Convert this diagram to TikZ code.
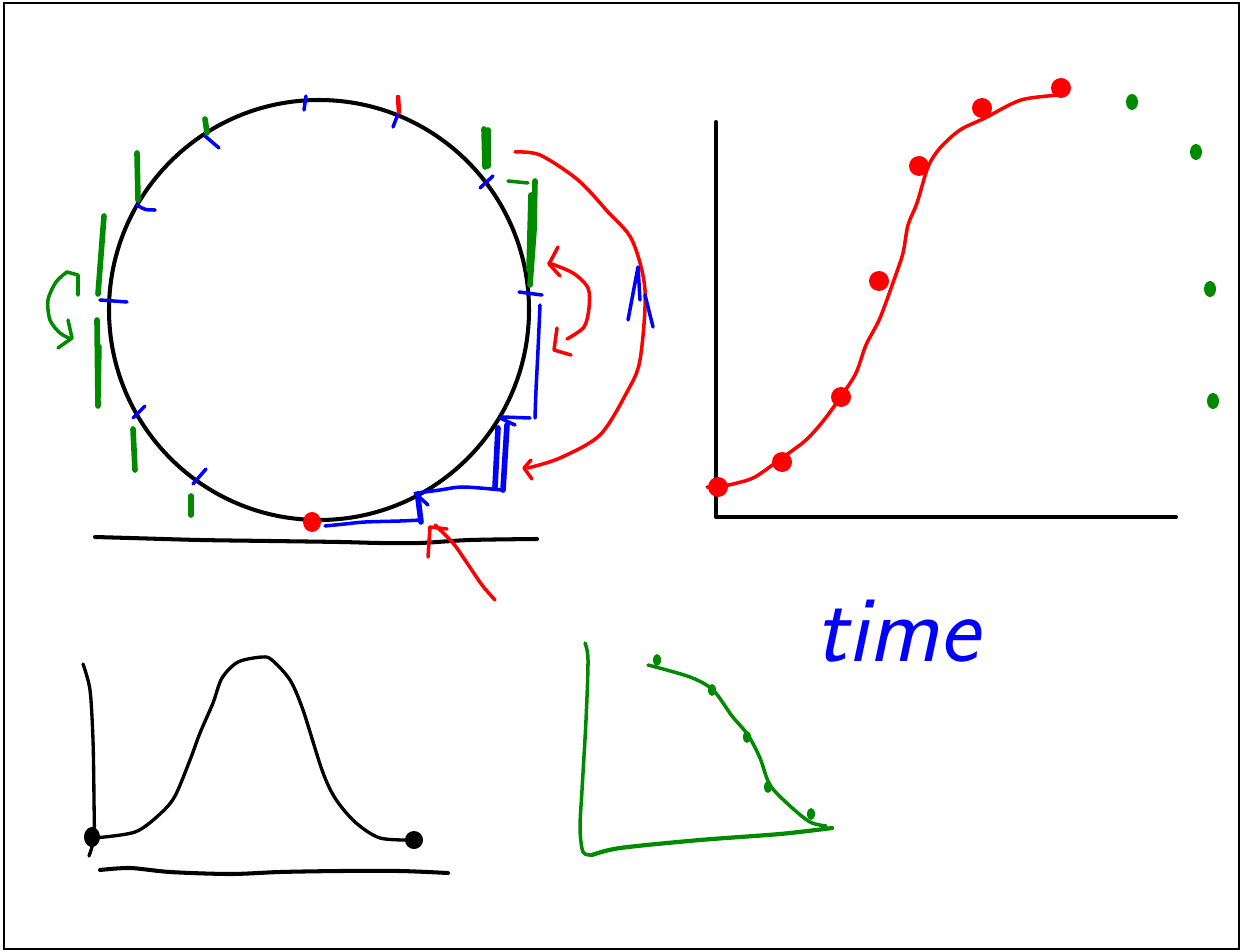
\documentclass[tikz,border=0pt]{standalone}
\usepackage{fontspec}
\usepackage{xcolor}
\definecolor{cInk}{HTML}{000000}
\definecolor{cRed}{HTML}{FF0000}
\definecolor{cBlue}{HTML}{0000FF}
\definecolor{cGreen}{HTML}{008A00}
\usetikzlibrary{positioning}
\tikzset{
  pen/.style={line cap=round,line join=round},
  pen-black/.style={pen,draw=cInk,line width=2.3pt},
  pen-red/.style={pen,draw=cRed,line width=2pt},
  pen-blue/.style={pen,draw=cBlue,line width=2pt},
  pen-blue-thick/.style={pen,draw=cBlue,line width=3.2pt},
  pen-green/.style={pen,draw=cGreen,line width=2pt},
  pen-green-thick/.style={pen,draw=cGreen,line width=3.2pt},
}

\begin{document}
\begin{tikzpicture}[x=0.02cm,y=-0.02cm]
  \useasboundingbox (0,0) rectangle (1243,952);
  \draw[line width=1.2pt] (4,3) rectangle (1239,949);

  % wheel on the ground
  \draw[pen-black] (319,310) circle [x radius=210, y radius=210];
  \draw[pen-black] plot[smooth] coordinates {(95,537) (130,538) (200,540) (270,541)
    (340,542) (380,543) (420,543) (470,540) (537,539)};
  \fill[cRed] (312,522) ellipse [x radius=9, y radius=10];

  % blue marks round the rim
  \draw[pen-blue] (306,96) -- (304,110);
  \draw[pen-blue] (398,114) -- (393,127);
  \draw[pen-blue] (205,136) -- (219,148);
  \draw[pen-blue] (137,205) .. controls (145,210) .. (155,210);
  \draw[pen-blue] (100,300) -- (127,302);
  \draw[pen-blue] (133,418) -- (145,406);
  \draw[pen-blue] (193,484) -- (206,469);
  \draw[pen-blue] (480,188) -- (493,176);
  \draw[pen-blue] (519,292) -- (542,295);
  \draw[pen-red,line width=2.6pt] (398,97) -- (399,112);

  % green strokes
  \draw[pen-green-thick] (205,119) -- (207,133);
  \draw[pen-green-thick] (137,153) -- (138,200);
  \draw[pen-green-thick] (104,216) -- (98,294);
  \draw[pen-green-thick] (97,320) -- (98,406);
  \draw[pen-green] (100,346) -- (99,398);
  \draw[pen-green-thick] (133,429) -- (135,470);
  \draw[pen-green-thick] (191,496) -- (191,515);
  \draw[pen-green-thick] (484,129) -- (485,167);
  \draw[pen-green-thick] (488,130) -- (488,166);
  \draw[pen-green] (508,181) -- (528,183);
  \draw[pen-green-thick] (535,181) -- (534,230) -- (530,285);
  \draw[pen-green-thick] (531,195) -- (529,270);
  \draw[pen-green] plot[smooth] coordinates {(67,272) (56,282) (48,300) (50,320) (60,333) (71,339)};
  \draw[pen-green] (67,272) -- (78,275) -- (78,295);
  \draw[pen-green] (68,320) -- (72,338) -- (58,348);

  % red arrows on the right
  \draw[pen-red] plot[smooth] coordinates {(515,152) (540,155) (578,180) (608,212)
    (632,240) (645,290) (640,360) (627,392) (600,435) (560,458) (528,468)};
  \draw[pen-red] (531,460) -- (524,468) -- (532,479);
  \draw[pen-red] plot[smooth] coordinates {(549,263) (573,273) (588,288) (589,308)
    (584,327) (567,339)};
  \draw[pen-red] (558,247) -- (549,264) -- (560,276);
  \draw[pen-red] (557,328) -- (554,350) -- (571,355);
  \draw[pen-red] plot[smooth] coordinates {(495,600) (482,585) (465,560) (453,543) (435,525)};
  \draw[pen-red] (428,557) -- (430,527) -- (447,529);

  % blue path
  \draw[pen-blue] plot[smooth] coordinates {(325,526) (345,524) (365,522) (400,521) (421,520)};
  \draw[pen-blue-thick] (418,498) -- (421,522);
  \draw[pen-blue] (415,493) -- (428,505);
  \draw[pen-blue] plot[smooth] coordinates {(417,493) (440,490) (463,487) (502,490)};
  \draw[pen-blue-thick] (498,428) -- (495,487);
  \draw[pen-blue-thick] (507,425) -- (503,490);
  \draw[pen-blue] (502,417) -- (530,418);
  \draw[pen-blue] (500,418) -- (515,425);
  \draw[pen-blue] plot[smooth] coordinates {(535,418) (536,390) (538,350) (540,305)};
  \draw[pen-blue] (628,320) -- (638,267) -- (640,300);
  \draw[pen-blue] (645,295) -- (653,327);

  % sigmoid plot
  \draw[pen-black] (716,122) -- (716,517) -- (1176,517);
  \draw[pen-red] plot[smooth] coordinates {(707,487) (718,487) (737,483) (755,477)
    (782,458) (806,440) (824,420) (842,395) (856,373) (866,345) (880,318) (895,277)
    (903,253) (908,225) (917,203) (928,167) (940,148) (960,130) (985,118) (1021,100)
    (1060,95)};
  \foreach \px/\py in {718/487, 782/462, 841/397, 879/281, 919/166, 982/108, 1061/88}
    \fill[cRed] (\px,\py) ellipse [x radius=10, y radius=10];
  \foreach \px/\py in {1132/102, 1196/152, 1210/289, 1213/401}
    \fill[cGreen] (\px,\py) ellipse [x radius=6, y radius=8];

  \node[text=cBlue,font=\sffamily\itshape\fontsize{54}{64}\selectfont] (time-label)
    at (897,631) {time};

  % bell curve
  \draw[pen-black,line width=1.9pt] plot[smooth] coordinates {(83,664) (90,690) (93,740)
    (94,800) (94,837) (89,856)};
  \draw[pen-black,line width=1.9pt] plot[smooth] coordinates {(94,838) (135,832) (160,814)
    (175,796) (190,760) (200,733) (213,703) (222,678) (238,662) (262,657) (272,660)
    (290,680) (303,710) (322,770) (335,798) (355,822) (380,838) (414,840)};
  \fill[cInk] (92,837) ellipse [x radius=8, y radius=10];
  \fill[cInk] (414,840) ellipse [x radius=9, y radius=9];
  \draw[pen-black] plot[smooth] coordinates {(100,870) (130,868) (170,872) (230,874)
    (280,872) (340,871) (400,871) (448,873)};

  % green decay plot
  \draw[pen-green] plot[smooth] coordinates {(585,643) (588,660) (586,720) (582,790)
    (580,828) (583,852) (592,855)};
  \draw[pen-green,line width=2.4pt] plot[smooth] coordinates {(592,855) (620,848) (700,840)
    (780,834) (832,828)};
  \draw[pen-green] plot[smooth] coordinates {(648,665) (690,677) (713,690) (732,716)
    (748,735) (760,758) (770,785) (790,806) (810,822) (826,826)};
  \foreach \px/\py in {657/660, 712/690, 747/737, 768/787, 811/814}
    \fill[cGreen] (\px,\py) ellipse [x radius=4, y radius=6];
\end{tikzpicture}
\end{document}
